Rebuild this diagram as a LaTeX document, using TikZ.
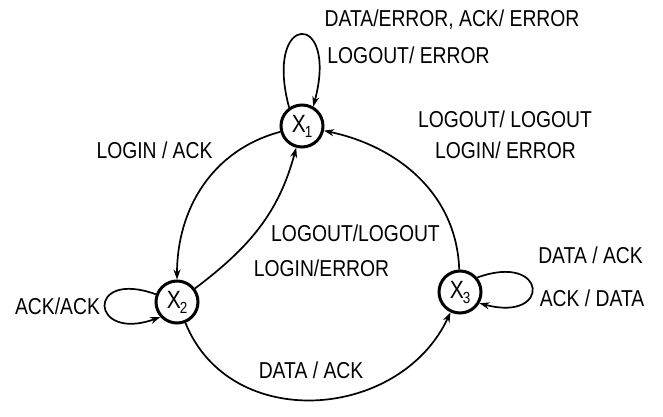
\documentclass[tikz,border=0pt]{standalone}
\usepackage{fontspec}
\setmainfont{Liberation Sans}[FakeStretch=0.84]
\usetikzlibrary{arrows.meta}

% state name: X with a large subscript
\newcommand{\xsub}[1]{X\kern-1pt\raisebox{-5pt}{\fontsize{16}{16}\selectfont #1}}

\begin{document}
\begin{tikzpicture}[x=1pt,y=1pt,
  statenode/.style={circle, draw, line width=3pt, minimum size=42pt, inner sep=0pt,
    font=\fontsize{25}{25}\selectfont},
  trans/.style={line width=1.7pt, -{Stealth[length=10pt,width=7pt]}},
  lbl/.style={font=\fontsize{23}{23}\selectfont, inner sep=0pt, text depth=0pt}]
\useasboundingbox (0,0) rectangle (663,417);

\node[statenode] (x1) at (302,291) {\xsub{1}};
\node[statenode] (x2) at (177,115) {\xsub{2}};
\node[statenode] (x3) at (460,125) {\xsub{3}};

% transitions
\draw[trans] (x1) to[out=195,in=90] (x2);
\draw[trans] (x2) to[out=37,in=255] (x1);
\draw[trans] (x3) to[out=92,in=-12] (x1);
\draw[trans] (x2) to[out=-68,in=-115,looseness=1.15] (x3);

% self loops
\draw[trans] (x1.125) .. controls +(105:100) and +(75:100) .. (x1.60);
\draw[trans] (x2.160) .. controls +(160:75) and +(200:75) .. (x2.222);
\draw[trans] (x3.40) .. controls +(20:75) and +(-15:75) .. (x3.-30);

% input/output labels
\node[lbl] (loopx1a) at (452,398.5) {DATA/ERROR, ACK/ ERROR};
\node[lbl] (loopx1b) at (408.5,362) {LOGOUT/ ERROR};
\node[lbl] (x3x1a) at (505,298) {LOGOUT/ LOGOUT};
\node[lbl] (x3x1b) at (505.5,267) {LOGIN/ ERROR};
\node[lbl] (x1x2) at (154.5,267) {LOGIN / ACK};
\node[lbl] (x2x1a) at (355.5,184) {LOGOUT/LOGOUT};
\node[lbl] (x2x1b) at (321.5,149) {LOGIN/ERROR};
\node[lbl] (x2x3) at (311,46.5) {DATA / ACK};
\node[lbl] (loopx2) at (57.5,111) {ACK/ACK};
\node[lbl] (loopx3a) at (590.5,161.5) {DATA / ACK};
\node[lbl] (loopx3b) at (592,119) {ACK / DATA};
\end{tikzpicture}
\end{document}
